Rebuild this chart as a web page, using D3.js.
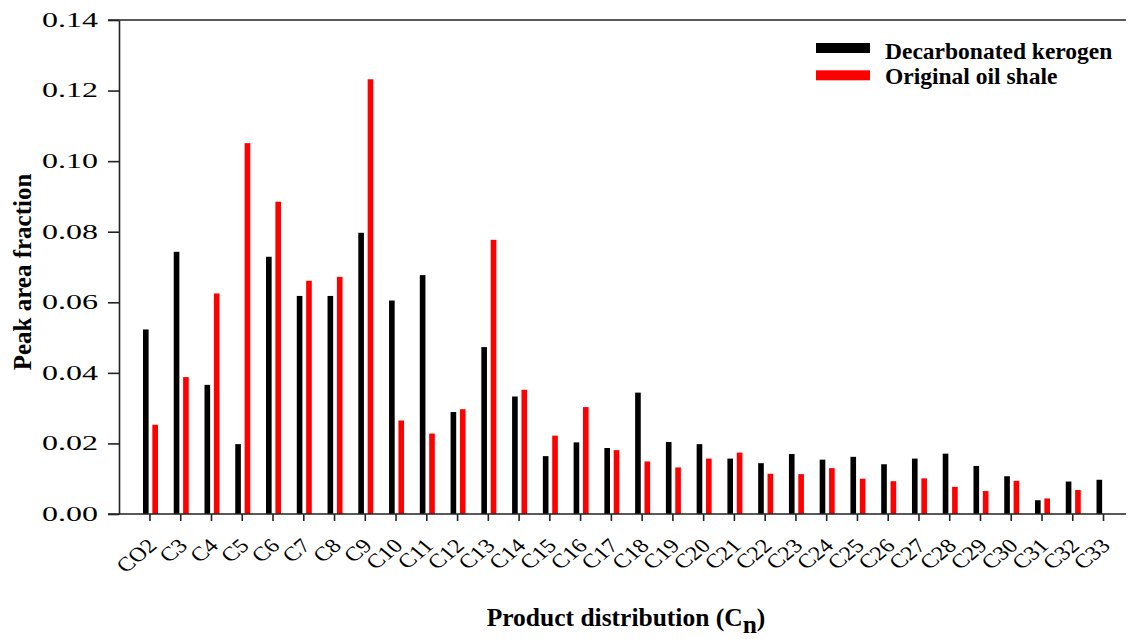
<!DOCTYPE html>
<html>
<head>
<meta charset="utf-8">
<script src="https://cdn.jsdelivr.net/npm/d3@7"></script>
<style>
  body { margin: 0; background: #fff; }
  text { font-family: "Liberation Serif", "Times New Roman", serif; fill: #000; }
</style>
</head>
<body>
<svg id="chart" width="1129" height="639"></svg>
<script>
// product categories (carbon numbers)
var categories = ["CO2", "C3", "C4", "C5", "C6", "C7", "C8", "C9", "C10", "C11", "C12", "C13",
    "C14", "C15", "C16", "C17", "C18", "C19", "C20", "C21", "C22", "C23", "C24", "C25",
    "C26", "C27", "C28", "C29", "C30", "C31", "C32", "C33"];

// peak area fraction
var kerogen = [0.0523, 0.0743, 0.0366, 0.0198, 0.0729, 0.0618, 0.0618, 0.0797, 0.0605, 0.0677, 0.0289, 0.0473,
    0.0333, 0.0164, 0.0203, 0.0187, 0.0344, 0.0204, 0.0198, 0.0157, 0.0144, 0.0170, 0.0154, 0.0162,
    0.0141, 0.0157, 0.0171, 0.0136, 0.0107, 0.0039, 0.0092, 0.0097];
var oilShale = [0.0253, 0.0388, 0.0625, 0.1051, 0.0885, 0.0661, 0.0672, 0.1232, 0.0265, 0.0228, 0.0297, 0.0777,
    0.0352, 0.0222, 0.0303, 0.0181, 0.0149, 0.0132, 0.0157, 0.0174, 0.0114, 0.0113, 0.0130, 0.0100,
    0.0093, 0.0101, 0.0077, 0.0065, 0.0094, 0.0044, 0.0068, 0];

var yTicks = [0, 0.02, 0.04, 0.06, 0.08, 0.10, 0.12, 0.14];
var seriesNames = ["Decarbonated kerogen", "Original oil shale"];
var seriesColors = ["#000000", "#ff0000"];

var svg = d3.select("#chart");

var plotLeft = 119, plotRight = 1126, plotTop = 20, plotBottom = 514;

var y = d3.scaleLinear()
    .domain([0, 0.14])
    .range([plotBottom, plotTop]);

var x = d3.scaleBand()
    .domain(categories)
    .range([134.6, 1118.9]);

// two bars inside every category
var xs = d3.scaleBand()
    .domain([0, 1])
    .range([x.bandwidth() / 2 - 7, x.bandwidth() / 2 + 8])
    .paddingInner(0.4);

// bars
var rows = categories.map((c, i) => ({ cat: c, values: [kerogen[i], oilShale[i]] }));

var groups = svg.append("g")
    .selectAll("g")
    .data(rows)
    .join("g")
    .attr("transform", d => `translate(${x(d.cat)},0)`);

groups.selectAll("rect")
    .data(d => d.values.map((v, k) => ({ k: k, v: v })).filter(e => e.v > 0))
    .join("rect")
    .attr("x", d => xs(d.k))
    .attr("width", xs.bandwidth())
    .attr("y", d => y(d.v))
    .attr("height", d => y(0) - y(d.v))
    .attr("fill", d => seriesColors[d.k]);

// frame lines: top and baseline
svg.append("line")
    .attr("x1", 108).attr("x2", plotRight)
    .attr("y1", plotTop).attr("y2", plotTop)
    .attr("stroke", "#222").attr("stroke-width", 1.6);
svg.append("line")
    .attr("x1", 108).attr("x2", plotRight)
    .attr("y1", plotBottom).attr("y2", plotBottom)
    .attr("stroke", "#222").attr("stroke-width", 1.6);

// y axis
var yAxis = svg.append("g")
    .attr("transform", `translate(${plotLeft},0)`)
    .call(d3.axisLeft(y).tickValues(yTicks).tickFormat(d3.format(".2f")).tickSize(11).tickSizeOuter(0));
yAxis.select(".domain").attr("stroke", "#222").attr("stroke-width", 1.6);
yAxis.selectAll(".tick line").attr("stroke", "#222").attr("stroke-width", 1.6);
// the labels in the figure are drawn wide, so stretch them sideways
yAxis.selectAll(".tick text")
    .attr("font-size", 20)
    .attr("font-family", "Liberation Serif")
    .attr("x", 0)
    .attr("transform", "translate(-21,0) scale(1.6,1)");

// x axis
var xAxis = svg.append("g")
    .attr("transform", `translate(0,${plotBottom})`)
    .call(d3.axisBottom(x).tickSize(7).tickSizeOuter(0));
xAxis.select(".domain").remove();
xAxis.selectAll(".tick line").attr("stroke", "#222").attr("stroke-width", 1.6);
xAxis.selectAll(".tick text")
    .attr("font-size", 20)
    .attr("font-family", "Liberation Serif")
    .attr("text-anchor", "end")
    .attr("dy", null)
    .attr("y", null)
    .attr("transform", "translate(8,33) scale(1.2,1) rotate(-45)");

// axis titles
var xTitle = svg.append("text")
    .attr("x", 626)
    .attr("y", 626)
    .attr("text-anchor", "middle")
    .attr("font-size", 25.5)
    .attr("font-weight", "bold");
xTitle.append("tspan").text("Product distribution (C");
xTitle.append("tspan").attr("dy", 7).text("n");
xTitle.append("tspan").attr("dy", -7).text(")");

svg.append("text")
    .attr("transform", "translate(31,272) rotate(-90)")
    .attr("text-anchor", "middle")
    .attr("font-size", 25)
    .attr("font-weight", "bold")
    .text("Peak area fraction");

// legend
var legend = svg.append("g")
    .attr("transform", "translate(816,43)");

legend.selectAll("rect")
    .data(seriesNames)
    .join("rect")
    .attr("x", 0)
    .attr("y", (d, i) => i * 27.3)
    .attr("width", 54)
    .attr("height", 10)
    .attr("fill", (d, i) => seriesColors[i]);

legend.selectAll("text")
    .data(seriesNames)
    .join("text")
    .attr("x", 69)
    .attr("y", (d, i) => 16 + i * 25)
    .attr("font-size", 23.5)
    .attr("font-weight", "bold")
    .text(d => d);
</script>
</body>
</html>
